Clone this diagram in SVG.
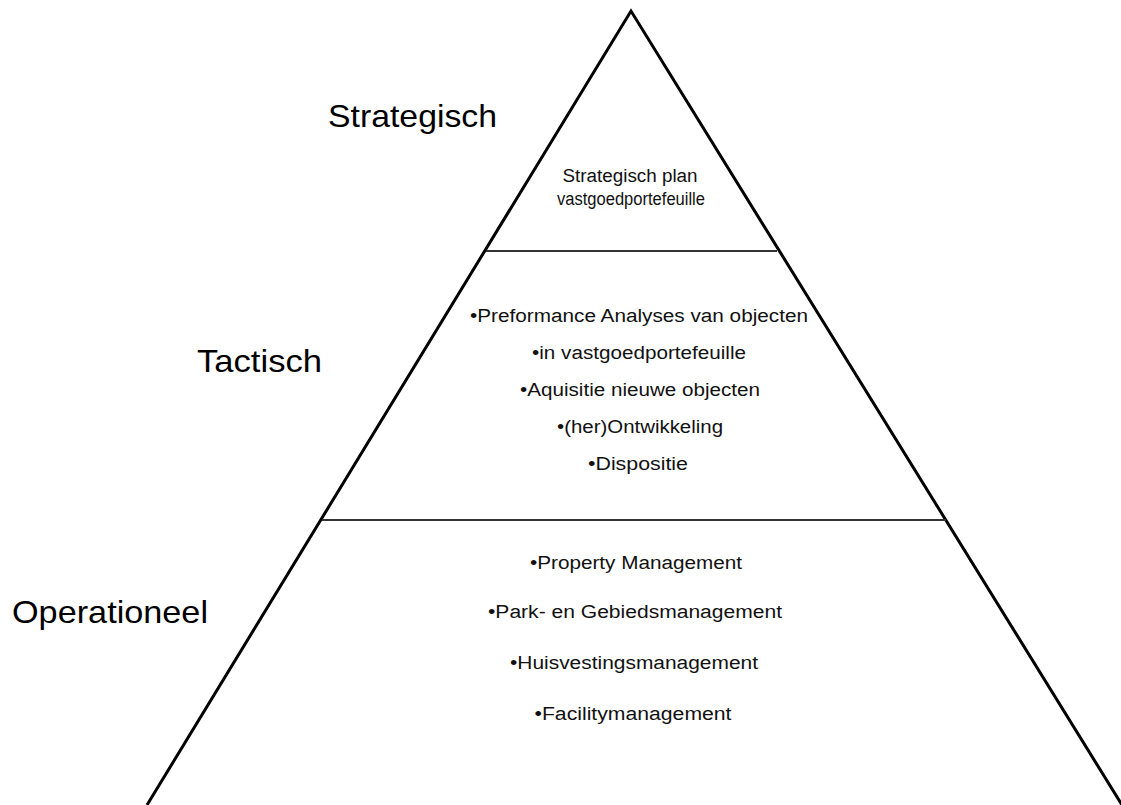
<svg xmlns="http://www.w3.org/2000/svg" width="1121" height="805" viewBox="0 0 1121 805">
<style>
.edge{fill:none;stroke:#000;stroke-width:3;stroke-linejoin:miter}
.div{stroke:#333;stroke-width:2}
.lvl{font-family:"Liberation Sans",Arial,sans-serif;font-size:32px;fill:#000}
.item{font-family:"Liberation Sans",Arial,sans-serif;font-size:18px;fill:#111;text-anchor:middle}
</style>
<rect width="1121" height="805" fill="#fff"/>
<g id="connectors">
<path class="edge" d="M147,805 L631,11 L1122,805"/>
<line class="div" x1="486" y1="251" x2="777" y2="251"/>
<line class="div" x1="322" y1="520" x2="946" y2="520"/>
</g>
<g id="strategisch">
<text class="lvl" x="328" y="127" textLength="169" lengthAdjust="spacingAndGlyphs">Strategisch</text>
<text class="item" x="630" y="182" textLength="135" lengthAdjust="spacingAndGlyphs">Strategisch plan</text>
<text class="item" x="631" y="205" textLength="148" lengthAdjust="spacingAndGlyphs">vastgoedportefeuille</text>
</g>
<g id="tactisch">
<text class="lvl" x="197" y="372" textLength="125" lengthAdjust="spacingAndGlyphs">Tactisch</text>
<text class="item" x="639" y="322" textLength="338" lengthAdjust="spacingAndGlyphs">•Preformance Analyses van objecten</text>
<text class="item" x="639" y="359" textLength="214" lengthAdjust="spacingAndGlyphs">•in vastgoedportefeuille</text>
<text class="item" x="640" y="396" textLength="240" lengthAdjust="spacingAndGlyphs">•Aquisitie nieuwe objecten</text>
<text class="item" x="640" y="433" textLength="166" lengthAdjust="spacingAndGlyphs">•(her)Ontwikkeling</text>
<text class="item" x="638" y="470" textLength="100" lengthAdjust="spacingAndGlyphs">•Dispositie</text>
</g>
<g id="operationeel">
<text class="lvl" x="12" y="623" textLength="196" lengthAdjust="spacingAndGlyphs">Operationeel</text>
<text class="item" x="636" y="569" textLength="212" lengthAdjust="spacingAndGlyphs">•Property Management</text>
<text class="item" x="635" y="618" textLength="294" lengthAdjust="spacingAndGlyphs">•Park- en Gebiedsmanagement</text>
<text class="item" x="634" y="669" textLength="248" lengthAdjust="spacingAndGlyphs">•Huisvestingsmanagement</text>
<text class="item" x="633" y="720" textLength="197" lengthAdjust="spacingAndGlyphs">•Facilitymanagement</text>
</g>
</svg>
